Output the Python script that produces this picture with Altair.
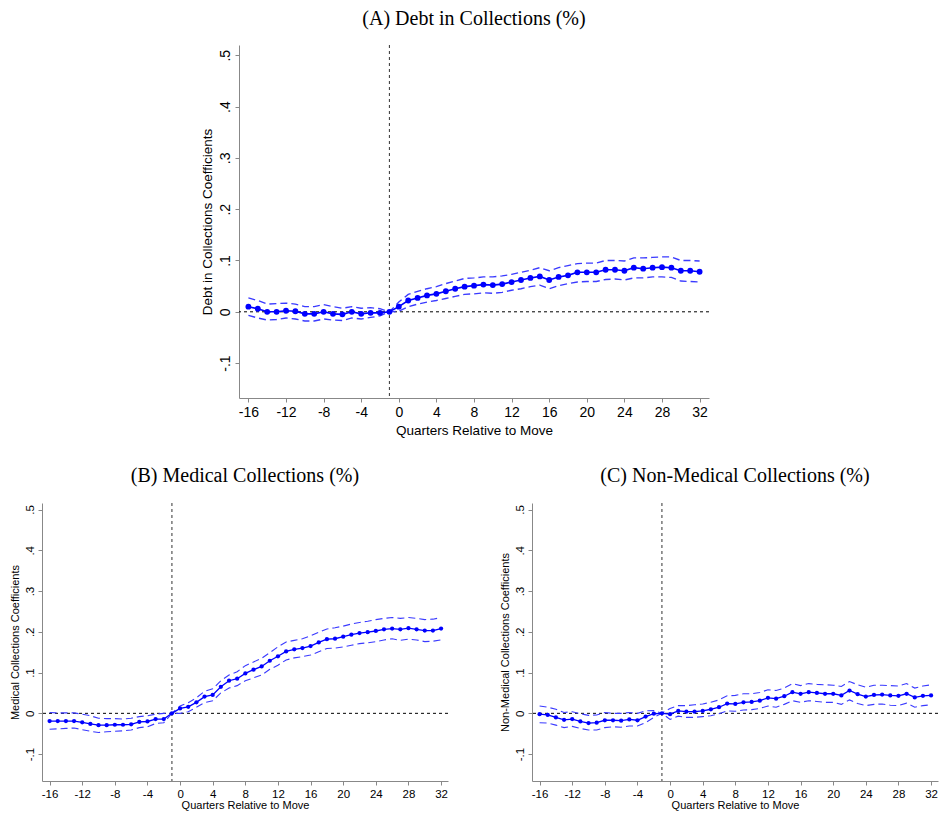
import altair as alt
import pandas as pd

quarters = list(range(-16, 33))

A_est = [0.010, 0.006, 0.0, 0.0, 0.002, 0.001, -0.004, -0.004, 0.0, -0.004, -0.005, 0.0, -0.004, -0.002, -0.002, 0.0,
         0.010, 0.022, 0.027, 0.032, 0.035, 0.040, 0.045, 0.049, 0.051, 0.053, 0.052, 0.054, 0.058, 0.062, 0.066, 0.069,
         0.062, 0.068, 0.071, 0.077, 0.077, 0.077, 0.082, 0.082, 0.080, 0.086, 0.084, 0.086, 0.087, 0.086, 0.080, 0.080, 0.078]
A_hi = [0.027, 0.022, 0.015, 0.016, 0.017, 0.015, 0.010, 0.010, 0.014, 0.010, 0.007, 0.010, 0.007, 0.008, 0.006, 0.0,
        0.019, 0.034, 0.040, 0.045, 0.049, 0.055, 0.060, 0.065, 0.066, 0.068, 0.068, 0.070, 0.073, 0.077, 0.081, 0.086,
        0.080, 0.086, 0.090, 0.094, 0.095, 0.095, 0.100, 0.100, 0.099, 0.105, 0.105, 0.106, 0.107, 0.107, 0.100, 0.100, 0.099]
A_lo = [-0.007, -0.012, -0.016, -0.015, -0.012, -0.014, -0.018, -0.018, -0.014, -0.016, -0.017, -0.012, -0.014, -0.011, -0.008, 0.0,
        0.001, 0.010, 0.015, 0.019, 0.022, 0.026, 0.030, 0.034, 0.035, 0.037, 0.036, 0.038, 0.042, 0.045, 0.049, 0.052,
        0.045, 0.051, 0.055, 0.058, 0.059, 0.059, 0.063, 0.064, 0.062, 0.066, 0.066, 0.068, 0.068, 0.067, 0.060, 0.059, 0.058]

B_est = [-0.019, -0.019, -0.019, -0.019, -0.022, -0.026, -0.029, -0.029, -0.028, -0.028, -0.027, -0.021, -0.020, -0.014, -0.014, 0.0,
         0.012, 0.016, 0.027, 0.041, 0.045, 0.065, 0.080, 0.085, 0.098, 0.107, 0.115, 0.129, 0.140, 0.152, 0.157, 0.160,
         0.165, 0.174, 0.182, 0.183, 0.188, 0.193, 0.197, 0.199, 0.202, 0.206, 0.208, 0.206, 0.209, 0.206, 0.203, 0.203, 0.208]
B_hi = [0.002, 0.001, 0.001, 0.001, -0.002, -0.006, -0.012, -0.013, -0.013, -0.014, -0.012, -0.008, -0.006, -0.002, 0.0, 0.0,
        0.018, 0.026, 0.038, 0.054, 0.060, 0.080, 0.094, 0.102, 0.117, 0.126, 0.135, 0.149, 0.163, 0.175, 0.179, 0.183,
        0.190, 0.199, 0.207, 0.210, 0.214, 0.219, 0.223, 0.226, 0.230, 0.233, 0.235, 0.233, 0.235, 0.233, 0.230, 0.231, 0.235]
B_lo = [-0.039, -0.038, -0.037, -0.036, -0.040, -0.044, -0.047, -0.045, -0.044, -0.043, -0.041, -0.035, -0.033, -0.025, -0.023, 0.0,
        0.0, 0.004, 0.015, 0.026, 0.031, 0.050, 0.062, 0.068, 0.080, 0.087, 0.094, 0.108, 0.118, 0.131, 0.136, 0.139,
        0.143, 0.151, 0.159, 0.160, 0.163, 0.167, 0.171, 0.173, 0.176, 0.180, 0.183, 0.179, 0.182, 0.180, 0.176, 0.177, 0.180]

C_est = [-0.002, -0.004, -0.010, -0.016, -0.014, -0.020, -0.024, -0.023, -0.017, -0.017, -0.018, -0.015, -0.017, -0.008, -0.001, 0.0,
         -0.002, 0.006, 0.004, 0.004, 0.006, 0.010, 0.015, 0.024, 0.023, 0.027, 0.028, 0.031, 0.038, 0.036, 0.042, 0.052,
         0.048, 0.052, 0.050, 0.048, 0.048, 0.044, 0.056, 0.047, 0.041, 0.045, 0.046, 0.044, 0.043, 0.048, 0.039, 0.043, 0.044]
C_hi = [0.018, 0.015, 0.010, 0.002, 0.004, -0.001, -0.005, -0.004, 0.002, 0.0, 0.0, 0.002, 0.0, 0.006, 0.007, 0.0,
        0.012, 0.019, 0.019, 0.021, 0.023, 0.027, 0.033, 0.043, 0.044, 0.048, 0.048, 0.051, 0.058, 0.056, 0.062, 0.073,
        0.068, 0.073, 0.071, 0.070, 0.069, 0.066, 0.078, 0.070, 0.064, 0.069, 0.069, 0.068, 0.067, 0.073, 0.062, 0.067, 0.070]
C_lo = [-0.023, -0.024, -0.029, -0.035, -0.032, -0.037, -0.041, -0.041, -0.035, -0.033, -0.034, -0.031, -0.031, -0.023, -0.010, 0.0,
        -0.015, -0.007, -0.010, -0.010, -0.008, -0.006, -0.001, 0.006, 0.005, 0.008, 0.009, 0.012, 0.018, 0.015, 0.022, 0.031,
        0.027, 0.031, 0.029, 0.027, 0.027, 0.022, 0.033, 0.024, 0.019, 0.022, 0.023, 0.020, 0.019, 0.025, 0.015, 0.019, 0.021]

x_ticks = [-16, -12, -8, -4, 0, 4, 8, 12, 16, 20, 24, 28, 32]
y_ticks = [-0.1, 0.0, 0.1, 0.2, 0.3, 0.4, 0.5]
x_title = "Quarters Relative to Move"
titles = ["(A) Debt in Collections (%)", "(B) Medical Collections (%)", "(C) Non-Medical Collections (%)"]
y_titles = ["Debt in Collections Coefficients", "Medical Collections Coefficients", "Non-Medical Collections Coefficients"]

BLUE = "#0000ff"
CI_BLUE = "#3a3aff"

x_label_expr = "datum.value < 0 ? '-' + toString(abs(datum.value)) : toString(datum.value)"
y_label_expr = ("datum.value == 0 ? '0' : (datum.value < 0 ? '-' : '') + "
                "replace(toString(round(abs(datum.value) * 10) / 10), '0.', '.')")

NO_FRAME = alt.ViewBackground(stroke=None, strokeWidth=0, fill="white")


def panel(title, ytitle, est, lo, hi, w, h, xdom, ydom, lab_fs, tit_fs, pt_size, lw,
          ttl_off, ttl_dy, xlab_pad, xtit_pad):
    df = pd.DataFrame({"q": quarters, "est": est, "lo": lo, "hi": hi})
    xs = alt.Scale(domain=xdom, nice=False, zero=False)
    ys = alt.Scale(domain=ydom, nice=False, zero=False)
    xaxis = alt.Axis(values=x_ticks, labelExpr=x_label_expr, title=x_title, grid=False,
                     tickSize=4, labelFontSize=lab_fs, titleFontSize=tit_fs, labelPadding=xlab_pad,
                     titlePadding=xtit_pad, titleFontWeight="normal", labelFont="Liberation Sans",
                     titleFont="Liberation Sans")
    yaxis = alt.Axis(values=y_ticks, labelExpr=y_label_expr, title=ytitle, grid=False,
                     tickSize=4, labelAngle=270, labelAlign="center", labelBaseline="bottom",
                     labelFontSize=lab_fs, titleFontSize=tit_fs, labelPadding=3, titlePadding=4,
                     titleFontWeight="normal", labelFont="Liberation Sans", titleFont="Liberation Sans")
    base = alt.Chart(df)
    x_enc = alt.X("q:Q", scale=xs, axis=xaxis)
    hline = base.mark_rule(color="black", strokeDash=[3, 3], strokeWidth=1).encode(
        y=alt.Y("y0:Q", scale=ys, axis=yaxis)).transform_calculate(y0="0").transform_filter("datum.q == -16")
    vline = base.mark_rule(color="#333333", strokeDash=[3, 3], strokeWidth=1).encode(
        x=alt.X("x0:Q", scale=xs, axis=xaxis)).transform_calculate(x0="-1").transform_filter("datum.q == -16")
    hi_line = base.mark_line(color=CI_BLUE, strokeDash=[7, 4], strokeWidth=lw * 0.85).encode(
        x=x_enc, y=alt.Y("hi:Q", scale=ys, axis=yaxis))
    lo_line = base.mark_line(color=CI_BLUE, strokeDash=[7, 4], strokeWidth=lw * 0.85).encode(
        x=x_enc, y=alt.Y("lo:Q", scale=ys, axis=yaxis))
    est_line = base.mark_line(color=BLUE, strokeWidth=lw).encode(
        x=x_enc, y=alt.Y("est:Q", scale=ys, axis=yaxis))
    pts = base.mark_circle(color=BLUE, size=pt_size, opacity=1).encode(
        x=x_enc, y=alt.Y("est:Q", scale=ys, axis=yaxis))
    return alt.layer(hline, vline, lo_line, hi_line, est_line, pts).properties(
        width=w, height=h, view=NO_FRAME,
        title=alt.TitleParams(title, font="Liberation Serif", fontSize=20, fontWeight="normal",
                              anchor="middle", frame="group", offset=ttl_off, dy=ttl_dy, color="black"))


pA = panel(titles[0], y_titles[0], A_est, A_lo, A_hi, 470, 353, [-17, 33], [-0.168, 0.52],
           14, 13.5, 34, 1.6, 9, -7, 3, 4)
pB = panel(titles[1], y_titles[1], B_est, B_lo, B_hi, 406, 278, [-16.93, 32.85], [-0.166, 0.516],
           11.5, 11, 18, 1.3, 17, 0, 3, 0)
pC = panel(titles[2], y_titles[2], C_est, C_lo, C_hi, 406, 278, [-16.93, 32.85], [-0.166, 0.516],
           11.5, 11, 18, 1.3, 17, 0, 3, 0)

spacer = alt.Chart(pd.DataFrame({"a": [0]})).mark_point(opacity=0).encode(
    x=alt.value(0), y=alt.value(0)).properties(width=1, height=1, view=NO_FRAME)

top = alt.hconcat(spacer, pA, spacing=154)
bottom = alt.hconcat(pB, pC, spacing=49)

chart = alt.vconcat(top, bottom, spacing=28).properties(
    padding={"left": 0, "top": 0, "right": 0, "bottom": 0}
).configure_view(stroke=None, strokeWidth=0).configure_axis(
    domainColor="black", tickColor="black", labelColor="black", titleColor="black",
    labelFont="Liberation Sans", titleFont="Liberation Sans", titleFontWeight="normal",
    domainWidth=1.2
).configure(background="white")

chart.save("out.html", embed_options={"renderer": "svg", "actions": False})
